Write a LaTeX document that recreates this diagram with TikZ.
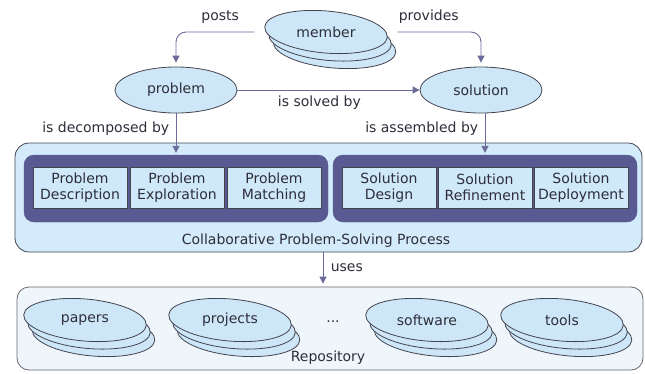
\documentclass[tikz,border=0pt]{standalone}
\usepackage{fontspec}
\setmainfont{DejaVu Sans}
\usetikzlibrary{shapes.geometric,arrows.meta,calc}
\definecolor{ellfill}{HTML}{CDE7F8}
\definecolor{bigfill}{HTML}{D3EBFA}
\definecolor{repofill}{HTML}{EEF6FC}
\definecolor{darkcol}{HTML}{5A5A92}
\definecolor{innerfill}{HTML}{CFE8FA}
\definecolor{bordercol}{HTML}{44444F}
\definecolor{arrcol}{HTML}{6B6B99}
\definecolor{txtcol}{HTML}{2E2E3A}
\newcommand{\stackell}[4]{%
  \node[ell] (#1c) at (#2+8.5,#3+15) {};
  \node[ell] (#1b) at (#2+4,#3+7.5) {};
  \node[ell] (#1) at (#2,#3) {};
  \node[lbl] (#1t) at (#2,#3) {#4};
}
\begin{document}
\begin{tikzpicture}[x=1pt,y=-1pt,
  font=\fontsize{14}{16}\selectfont, text=txtcol,
  ell/.style={ellipse, draw=bordercol, fill=ellfill, line width=0.8pt,
    minimum width=123pt, minimum height=42pt, inner sep=0pt, rotate=-5},
  flatell/.style={ellipse, draw=bordercol, fill=ellfill, line width=0.8pt,
    minimum width=122pt, minimum height=46pt, inner sep=0pt},
  lbl/.style={inner sep=1pt},
  arr/.style={draw=arrcol, line width=0.9pt, -{Triangle[length=7pt,width=7pt]}},
  stagebox/.style={draw=bordercol, fill=innerfill, line width=0.8pt,
    minimum width=94pt, minimum height=41pt, inner sep=0pt, align=center},
  darkbox/.style={fill=darkcol, draw=darkcol, rounded corners=10pt,
    minimum width=304pt, minimum height=67pt, inner sep=0pt},
  bigbox/.style={draw=bordercol, fill=bigfill, line width=0.8pt, rounded corners=14pt,
    inner sep=0pt},
  repobox/.style={draw=bordercol!80, fill=repofill, line width=0.8pt, rounded corners=12pt,
    inner sep=0pt}]
\useasboundingbox (0,0) rectangle (645,373);
\fill[white] (0,0) rectangle (645,373);

% top ellipses
\stackell{member}{326}{32}{member}
\node[flatell] (problem) at (176,90) {problem};
\node[flatell] (solution) at (481,90) {solution};

% process box
\node[bigbox, minimum width=627pt, minimum height=109pt] (cpsp) at (328.5,197.5) {};
\node[darkbox] (pbox) at (176,188.5) {};
\node[darkbox] (sbox) at (485,188.5) {};
\node[stagebox] (pd) at (80,187.5) {Problem\\Description};
\node[stagebox] (pe) at (177,187.5) {Problem\\Exploration};
\node[stagebox] (pm) at (274,187.5) {Problem\\Matching};
\node[stagebox] (sd) at (389,187.5) {Solution\\Design};
\node[stagebox] (sr) at (485,187.5) {Solution\\Refinement};
\node[stagebox] (sdp) at (581,187.5) {Solution\\Deployment};
\node[lbl] (cpspL) at (316,241) {Collaborative Problem-Solving Process};

% repository
\node[repobox, minimum width=626pt, minimum height=83pt] (repo) at (330,328.5) {};
\stackell{papers}{85}{320}{papers}
\stackell{projects}{230}{320}{projects}
\stackell{software}{427}{320}{software}
\stackell{tools}{562}{320}{tools}
\node[lbl] (dots) at (333,322) {...};
\node[lbl] (repoL) at (328,358) {Repository};

% connectors
\draw[arr, rounded corners=10pt, shorten <=10pt, shorten >=4pt]
  (member.center -| member.west) -| (problem.north)
  node[pos=0.25, above=5pt] {posts};
\draw[arr, rounded corners=10pt, shorten <=10pt, shorten >=4pt]
  (member.center -| member.east) -| (solution.north)
  node[pos=0.22, above=5pt] {provides};
\draw[arr] (problem) -- (solution) node[pos=0.45, below=2pt] {is solved by};
\draw[arr, shorten >=2pt] (problem.south) -- (problem.south |- pbox.north)
  node[pos=0.36, left=3pt] {is decomposed by};
\draw[arr, shorten >=2pt] (solution.south -| sr.center) -- (sr.center |- sbox.north)
  node[pos=0.36, left=3pt] {is assembled by};
\draw[arr, shorten >=3pt] ([xshift=-5.5pt]cpsp.south) -- ([xshift=-5.5pt]cpsp.south |- repo.north)
  node[pos=0.45, right=4pt] {uses};
\end{tikzpicture}
\end{document}
